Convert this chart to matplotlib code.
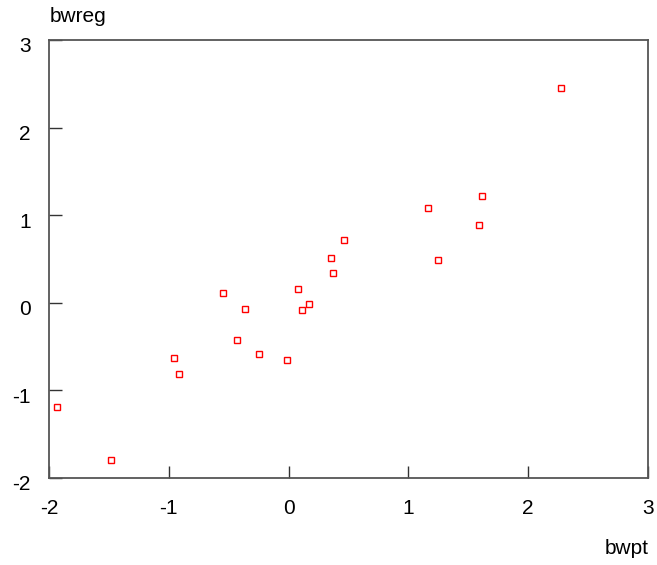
import matplotlib
matplotlib.use("Agg")
import matplotlib.pyplot as plt
from matplotlib.transforms import ScaledTranslation

plt.rcParams['font.family'] = ['Liberation Sans', 'DejaVu Sans']

bwpt = [2.274, 1.614, 1.164, 1.589, 1.247, 0.462, 0.354, 0.371, 0.078, 0.170,
        0.112, -0.548, -0.364, -0.431, -0.247, -0.013, -0.957, -0.915, -1.933, -1.482]
bwreg = [2.452, 1.219, 1.082, 0.888, 0.489, 0.717, 0.511, 0.340, 0.158, -0.014,
         -0.082, 0.112, -0.071, -0.425, -0.584, -0.653, -0.630, -0.813, -1.189, -1.795]
xticks = [-2, -1, 0, 1, 2, 3]
yticks = [-2, -1, 0, 1, 2, 3]

fig = plt.figure(figsize=(6.57, 5.65), dpi=100)
ax = fig.add_axes([49/657, 1-478/565, 599/657, 438/565])
ax.plot(bwpt, bwreg, linestyle='none', marker='s', markersize=5,
        markerfacecolor='none', markeredgecolor='red', markeredgewidth=1)
ax.set_xlim(-2, 3)
ax.set_ylim(-2, 3)
ax.set_xticks(xticks)
ax.set_yticks(yticks)
ax.set_xticklabels([str(t) for t in xticks])
ax.set_yticklabels([str(t) for t in yticks])
ax.tick_params(direction='in', length=9, width=1, colors='#333333',
               labelcolor='black', labelsize=15, top=False, right=False)
ax.tick_params(axis='x', pad=15)
ax.tick_params(axis='y', pad=13)
off = ScaledTranslation(0, -5/100, fig.dpi_scale_trans)
for lbl in ax.get_yticklabels():
    lbl.set_transform(lbl.get_transform() + off)
for s in ax.spines.values():
    s.set_color('#555555')
    s.set_linewidth(1.3)
fig.text(50/657, 1-16/565, 'bwreg', fontsize=15, ha='left', va='center')
fig.text(649/657, 1-549/565, 'bwpt', fontsize=15, ha='right', va='center')
fig.savefig('out.png', dpi=100)
